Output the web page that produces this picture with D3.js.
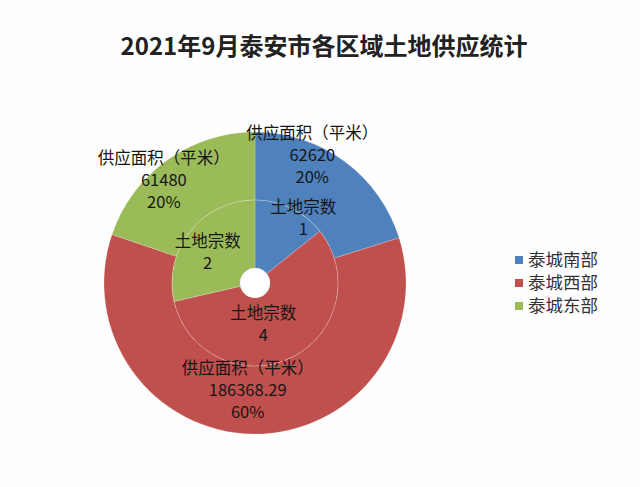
<!DOCTYPE html>
<html><head><meta charset="utf-8">
<script src="https://cdn.jsdelivr.net/npm/d3@7/dist/d3.min.js"></script>
<style>body{margin:0;background:#fff;}svg{display:block;}</style>
</head><body>
<script>
const title = "2021年9月泰安市各区域土地供应统计";
const regions = ["泰城南部", "泰城西部", "泰城东部"];
const colors = ["#4F81BD", "#C0504D", "#9BBB59"];
const landCount = [1, 4, 2];
const supplyArea = [62620, 186368.29, 61480];
const supplyPct = ["20%", "60%", "20%"];
const innerName = "土地宗数";
const outerName = "供应面积（平米）";

const W = 640, H = 487;
const cx = 255, cy = 283;
const rHole = 15, rMid = 83, rOuter = 151;
// label nudges relative to arc centroid (px)
const outerNudge = [[-12, -34], [-6, -10], [-23, -8]];
const innerNudge = [[27, -21], [-13, -3], [-9, 0]];

const svg = d3.select("body").append("svg").attr("width", W).attr("height", H);
svg.append("rect").attr("width", W).attr("height", H).attr("fill", "#fefefe");

svg.append("text").attr("x", 324).attr("y", 55).attr("text-anchor", "middle")
  .attr("font-family", "Noto Sans CJK SC").attr("font-weight", "bold")
  .attr("font-size", 24).attr("fill", "#222").text(title);

const pie = d3.pie().sort(null).value(d => d);
const g = svg.append("g").attr("transform", `translate(${cx},${cy})`);

const outerArc = d3.arc().innerRadius(rMid).outerRadius(rOuter);
const innerArc = d3.arc().innerRadius(rHole).outerRadius(rMid);

const outerData = pie(supplyArea);
const innerData = pie(landCount);

g.selectAll("path.o").data(outerData).join("path").attr("class", "o")
  .attr("d", outerArc).attr("fill", (d, i) => colors[i])
  .attr("stroke", "rgba(255,255,255,0.2)").attr("stroke-width", 1);
g.selectAll("path.i").data(innerData).join("path").attr("class", "i")
  .attr("d", innerArc).attr("fill", (d, i) => colors[i])
  .attr("stroke", "rgba(255,255,255,0.2)").attr("stroke-width", 1);

// hole shading
g.append("circle").attr("r", rHole).attr("fill", "#fff")
  .attr("stroke", "rgba(0,0,0,0.08)").attr("stroke-width", 1);

const fmt = v => String(v);
const lh = 22;
function label(lines, pos) {
  const t = g.append("text").attr("text-anchor", "middle")
    .attr("font-family", "Noto Sans CJK SC").attr("font-size", 16.5).attr("fill", "#161616");
  const n = lines.length;
  lines.forEach((s, k) => {
    t.append("tspan").attr("x", pos[0]).attr("y", pos[1] + (k - (n - 1) / 2) * lh)
      .attr("dy", "0.35em").text(s);
  });
}
outerData.forEach((d, i) => {
  const c = outerArc.centroid(d);
  label([outerName, fmt(supplyArea[i]), supplyPct[i]], [c[0] + outerNudge[i][0], c[1] + outerNudge[i][1]]);
});
innerData.forEach((d, i) => {
  const c = innerArc.centroid(d);
  label([innerName, fmt(landCount[i])], [c[0] + innerNudge[i][0], c[1] + innerNudge[i][1]]);
});

// legend
const lg = svg.append("g");
regions.forEach((r, i) => {
  const y = 260 + i * 23;
  lg.append("rect").attr("x", 515).attr("y", y - 4).attr("width", 8).attr("height", 8).attr("fill", colors[i]);
  lg.append("text").attr("x", 528).attr("y", y).attr("dy", "0.35em")
    .attr("font-family", "Noto Sans CJK SC").attr("font-size", 17.5).attr("fill", "#333").text(r);
});
</script>
</body></html>
